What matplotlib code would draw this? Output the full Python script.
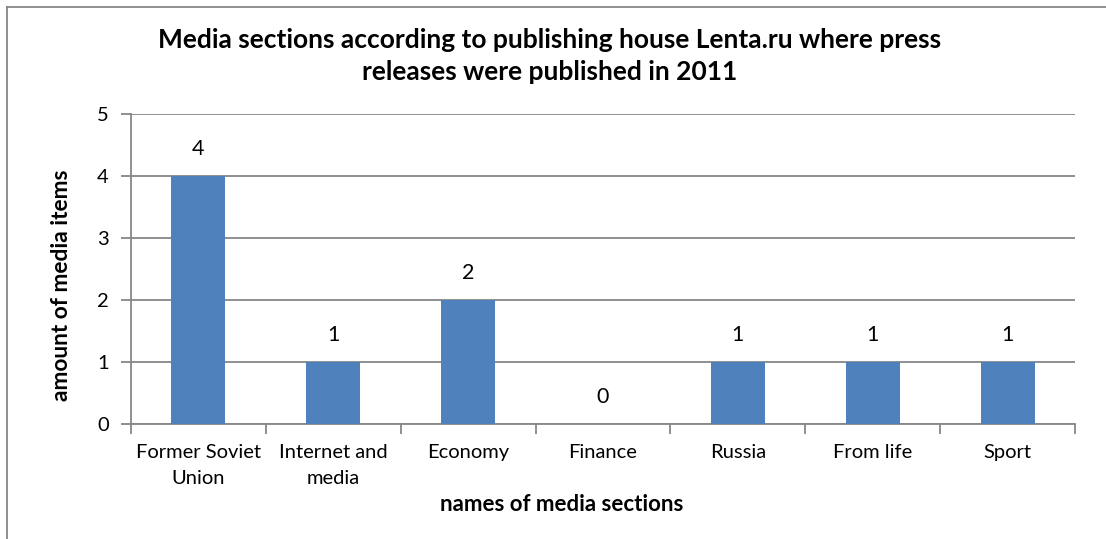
import matplotlib.pyplot as plt
from matplotlib.lines import Line2D

# Press release counts per Lenta.ru section, 2011
sections = ["Former Soviet\nUnion", "Internet and\nmedia", "Economy", "Finance",
            "Russia", "From life", "Sport"]
items = [4, 1, 2, 0, 1, 1, 1]
y_ticks = [0, 1, 2, 3, 4, 5]

plt.rcParams["font.family"] = ["Lato", "DejaVu Sans"]
grey = "#878787"

fig = plt.figure(figsize=(11.06, 5.39), dpi=100)
ax = fig.add_axes([0.1184, 0.2134, 0.8536, 0.5751])

x = list(range(len(sections)))
bars = ax.bar(x, items, width=0.4, color="#4F81BD", zorder=3)
ax.bar_label(bars, labels=[str(v) for v in items], padding=12, fontsize=15.5)

ax.set_xlim(-0.5, len(sections) - 0.5)
ax.set_ylim(0, 5)
ax.set_yticks(y_ticks)
ax.set_xticks(x)
ax.set_xticklabels(sections, fontsize=14.5, linespacing=1.6)
ax.set_xticks([i + 0.5 for i in range(-1, len(sections))], minor=True)
ax.tick_params(axis="x", which="major", length=0, pad=14.5)
ax.tick_params(axis="x", which="minor", length=7, color=grey, width=1.3)
ax.tick_params(axis="y", length=7, color=grey, width=1.3, labelsize=14.5, pad=9)

ax.grid(axis="y", color=grey, linewidth=1.3, zorder=0)
for side in ["top", "right"]:
    ax.spines[side].set_visible(False)
for side in ["left", "bottom"]:
    ax.spines[side].set_color(grey)
    ax.spines[side].set_linewidth(1.3)

fig.text(0.497, 0.896, "Media sections according to publishing house Lenta.ru where press\n"
         "releases were published in 2011", ha="center", va="center",
         fontsize=19, fontweight="bold", linespacing=1.4)
fig.text(0.508, 0.064, "names of media sections", ha="center", va="center",
         fontsize=16, fontweight="bold")
fig.text(0.056, 0.47, "amount of media items", ha="center", va="center",
         rotation=90, fontsize=16.4, fontweight="bold")

# outer frame: only top and left edges are visible
fig.add_artist(Line2D([0.0063, 0.0063], [0, 0.987], color=grey, linewidth=1.3))
fig.add_artist(Line2D([0.0063, 1], [0.987, 0.987], color=grey, linewidth=1.3))

fig.savefig("out.png", dpi=100)
